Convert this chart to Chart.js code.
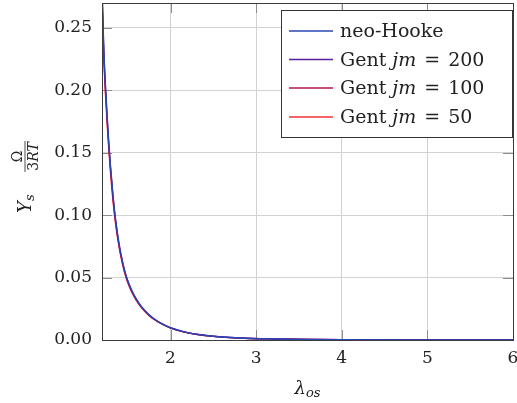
<!DOCTYPE html>
<html>
<head>
<meta charset="utf-8">
<script src="https://cdn.jsdelivr.net/npm/chart.js@4"></script>
<style>
  html, body { margin: 0; padding: 0; background: #fff; }
  #wrap { width: 517px; height: 403px; position: relative; }
</style>
</head>
<body>
<div id="wrap"><canvas id="chart"></canvas></div>
<script>
// stretch values
const lambdaOs = [1.20, 1.22, 1.24, 1.26, 1.28, 1.30, 1.33, 1.36, 1.40, 1.44, 1.48, 1.52, 1.56, 1.60, 1.65, 1.70, 1.75, 1.80, 1.90, 2.00, 2.15, 2.30, 2.50, 2.80, 3.20, 3.60, 4.00, 5.00, 6.00];
const neoHooke = [0.285, 0.236, 0.205, 0.180, 0.158, 0.139, 0.115, 0.096, 0.077, 0.063, 0.052, 0.0443, 0.0381, 0.0330, 0.0278, 0.0237, 0.0203, 0.0175, 0.0131, 0.0099, 0.0068, 0.0047, 0.0030, 0.0016, 0.0008, 0.0004, 0.0002, 0.00006, 0.00002];
const gent200  = [0.282, 0.234, 0.203, 0.178, 0.156, 0.138, 0.114, 0.095, 0.076, 0.062, 0.0515, 0.0439, 0.0377, 0.0327, 0.0275, 0.0235, 0.0201, 0.0173, 0.0130, 0.0098, 0.0067, 0.0046, 0.0030, 0.0016, 0.0008, 0.0004, 0.0002, 0.00006, 0.00002];
const gent100  = [0.277, 0.230, 0.200, 0.1755, 0.154, 0.1355, 0.112, 0.0936, 0.0751, 0.0614, 0.0507, 0.0432, 0.0371, 0.0322, 0.0271, 0.0231, 0.0198, 0.0171, 0.0128, 0.0097, 0.0066, 0.0046, 0.0029, 0.0016, 0.0008, 0.0004, 0.0002, 0.00006, 0.00002];
const gent50   = [0.272, 0.227, 0.197, 0.173, 0.152, 0.133, 0.110, 0.092, 0.074, 0.0605, 0.0500, 0.0425, 0.0366, 0.0317, 0.0267, 0.0228, 0.0195, 0.0168, 0.0126, 0.0095, 0.0065, 0.0045, 0.0029, 0.0015, 0.0008, 0.0004, 0.0002, 0.00006, 0.00002];

const seriesNames = ['neo-Hooke', 'Gent', 'Gent', 'Gent'];
const jmValues = [null, 200, 100, 50];
const seriesColors = ['#2846b4', '#5a1ea0', '#b4144b', '#f03232'];

const xTicks = [2, 3, 4, 5, 6];
const yTicks = [0, 0.05, 0.10, 0.15, 0.20, 0.25];

const FONT = 'DejaVu Serif';
const TEXT = '#222';

function toPoints(ys) {
  return lambdaOs.map((x, i) => ({ x: x, y: ys[i] }));
}

const allSeries = [neoHooke, gent200, gent100, gent50];

const datasets = allSeries.map((ys, i) => ({
  label: jmValues[i] === null ? seriesNames[i] : seriesNames[i] + ' jm = ' + jmValues[i],
  data: toPoints(ys),
  borderColor: seriesColors[i],
  borderWidth: 1.3,
  pointRadius: 0,
  fill: false,
  cubicInterpolationMode: 'monotone'
}));

// pgfplots-ish extras: inward ticks, frame, legend, axis titles
const extras = {
  id: 'extras',
  beforeDatasetsDraw(chart) {
    const ctx = chart.ctx;
    const a = chart.chartArea;
    const xs = chart.scales.x, ys = chart.scales.y;
    ctx.save();
    ctx.strokeStyle = '#8c8c8c';
    ctx.lineWidth = 1;
    const len = 10;
    xTicks.forEach(v => {
      const px = Math.round(xs.getPixelForValue(v)) + 0.5;
      ctx.beginPath();
      ctx.moveTo(px, a.bottom); ctx.lineTo(px, a.bottom - len);
      ctx.moveTo(px, a.top); ctx.lineTo(px, a.top + len);
      ctx.stroke();
    });
    yTicks.forEach(v => {
      const py = Math.round(ys.getPixelForValue(v)) + 0.5;
      ctx.beginPath();
      ctx.moveTo(a.left, py); ctx.lineTo(a.left + len, py);
      ctx.moveTo(a.right, py); ctx.lineTo(a.right - len, py);
      ctx.stroke();
    });
    ctx.restore();
  },
  afterDatasetsDraw(chart) {
    const ctx = chart.ctx;
    const a = chart.chartArea;
    ctx.save();

    // frame
    ctx.strokeStyle = '#3c3c3c';
    ctx.lineWidth = 1;
    ctx.strokeRect(Math.round(a.left) + 0.5, Math.round(a.top) + 0.5,
      Math.round(a.right - a.left), Math.round(a.bottom - a.top));

    // legend
    const bx = 281, by = 10, bw = 231, bh = 127;
    ctx.fillStyle = '#fff';
    ctx.fillRect(bx, by, bw, bh);
    ctx.strokeStyle = '#333';
    ctx.strokeRect(bx + 0.5, by + 0.5, bw, bh);
    const rowY = [31, 59.5, 88, 117];
    ctx.textBaseline = 'alphabetic';
    ctx.fillStyle = TEXT;
    chart.data.datasets.forEach((ds, i) => {
      const y = rowY[i];
      ctx.strokeStyle = ds.borderColor;
      ctx.lineWidth = 1.3;
      ctx.beginPath();
      ctx.moveTo(289, y); ctx.lineTo(333, y);
      ctx.stroke();
      let tx = 340;
      const base = y + 6;
      ctx.font = '19px "' + FONT + '"';
      if (jmValues[i] === null) {
        ctx.fillText(seriesNames[i], tx, base);
      } else {
        ctx.fillText(seriesNames[i] + ' ', tx, base);
        tx += ctx.measureText(seriesNames[i] + ' ').width;
        ctx.font = 'italic 19px "' + FONT + '"';
        ctx.fillText('jm', tx, base);
        tx += ctx.measureText('jm').width + 8;
        ctx.font = '19px "' + FONT + '"';
        ctx.fillText('=', tx, base);
        tx += ctx.measureText('=').width + 8;
        ctx.fillText(String(jmValues[i]), tx, base);
      }
    });

    // x title: lambda_os
    ctx.fillStyle = TEXT;
    ctx.font = 'italic 18px "' + FONT + '"';
    const lw = ctx.measureText('λ').width;
    ctx.font = 'italic 13px "' + FONT + '"';
    const sw = ctx.measureText('os').width;
    let x0 = (a.left + a.right) / 2 - (lw + sw) / 2;
    ctx.font = 'italic 18px "' + FONT + '"';
    ctx.fillText('λ', x0, 394);
    ctx.font = 'italic 13px "' + FONT + '"';
    ctx.fillText('os', x0 + lw, 397);

    // y title: Y_s  Omega / 3RT
    ctx.translate(26, 176);
    ctx.rotate(-Math.PI / 2);
    ctx.font = 'italic 18px "' + FONT + '"';
    ctx.fillText('Y', -37, 5);
    let lx = -37 + ctx.measureText('Y').width;
    ctx.font = 'italic 13px "' + FONT + '"';
    ctx.fillText('s', lx, 8);
    const fx = 4, fw = 31;
    ctx.strokeStyle = TEXT;
    ctx.lineWidth = 0.8;
    ctx.beginPath();
    ctx.moveTo(fx, -1); ctx.lineTo(fx + fw, -1);
    ctx.stroke();
    ctx.font = '14px "' + FONT + '"';
    const ow = ctx.measureText('Ω').width;
    ctx.fillText('Ω', fx + (fw - ow) / 2, -4);
    const w3 = ctx.measureText('3').width;
    ctx.font = 'italic 14px "' + FONT + '"';
    const wrt = ctx.measureText('RT').width;
    let dx = fx + (fw - w3 - wrt) / 2;
    ctx.font = '14px "' + FONT + '"';
    ctx.fillText('3', dx, 12);
    ctx.font = 'italic 14px "' + FONT + '"';
    ctx.fillText('RT', dx + w3, 12);

    ctx.restore();
  }
};

new Chart(document.getElementById('chart'), {
  type: 'line',
  data: { datasets: datasets },
  options: {
    responsive: true,
    maintainAspectRatio: false,
    animation: false,
    layout: { autoPadding: false, padding: { top: 3, right: 4, left: 0, bottom: 0 } },
    scales: {
      x: {
        type: 'linear',
        min: 1.2,
        max: 6,
        afterBuildTicks: s => { s.ticks = xTicks.map(v => ({ value: v })); },
        afterFit: s => { s.height = 63; s.paddingLeft = 0; s.paddingRight = 0; },
        grid: { color: '#d2d2d2', drawTicks: false },
        border: { display: false },
        ticks: {
          padding: 8,
          color: TEXT,
          font: { family: FONT, size: 17 },
          callback: v => String(v)
        }
      },
      y: {
        type: 'linear',
        min: 0,
        max: 0.27,
        afterBuildTicks: s => { s.ticks = yTicks.map(v => ({ value: v })); },
        afterFit: s => { s.width = 102; s.paddingTop = 0; s.paddingBottom = 0; },
        grid: { color: '#d2d2d2', drawTicks: false },
        border: { display: false },
        ticks: {
          padding: 10,
          color: TEXT,
          font: { family: FONT, size: 17 },
          callback: v => v.toFixed(2)
        }
      }
    },
    plugins: {
      legend: { display: false },
      tooltip: { enabled: false }
    }
  },
  plugins: [extras]
});
</script>
</body>
</html>
